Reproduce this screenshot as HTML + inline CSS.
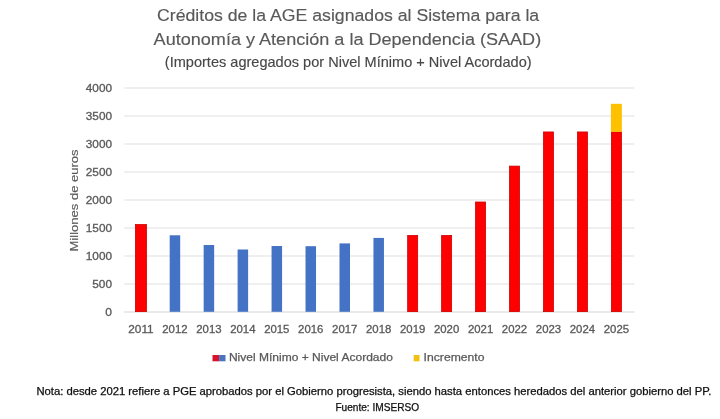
<!DOCTYPE html>
<html lang="es"><head><meta charset="utf-8"><title>Créditos de la AGE asignados al SAAD</title>
<style>html,body{margin:0;padding:0;background:#fff}body{width:720px;height:419px;overflow:hidden}svg{display:block}text{font-family:"Liberation Sans",Arial,sans-serif}</style></head><body>
<svg width="720" height="419" viewBox="0 0 720 419">
<rect width="720" height="419" fill="#ffffff"/>
<text x="157.0" y="21.2" font-size="16.9" fill="#595959" text-anchor="start" textLength="382.2" lengthAdjust="spacingAndGlyphs" stroke="#595959" stroke-width="0.15">Créditos de la AGE asignados al Sistema para la</text>
<text x="153.6" y="44.8" font-size="16.9" fill="#595959" text-anchor="start" textLength="387.6" lengthAdjust="spacingAndGlyphs" stroke="#595959" stroke-width="0.15">Autonomía y Atención a la Dependencia (SAAD)</text>
<text x="164.8" y="67.1" font-size="14.3" fill="#484848" text-anchor="start" textLength="366.8" lengthAdjust="spacingAndGlyphs" stroke="#484848" stroke-width="0.15">(Importes agregados por Nivel Mínimo + Nivel Acordado)</text>
<rect x="124.3" y="311.5" width="510.2" height="1" fill="#d4d4d4"/>
<text x="112.0" y="315.95" font-size="11" fill="#595959" text-anchor="end" textLength="6.7" lengthAdjust="spacingAndGlyphs" stroke="#595959" stroke-width="0.3">0</text>
<rect x="124.3" y="283.5" width="510.2" height="1" fill="#e0e0e0"/>
<text x="112.0" y="287.95" font-size="11" fill="#595959" text-anchor="end" textLength="19.7" lengthAdjust="spacingAndGlyphs" stroke="#595959" stroke-width="0.3">500</text>
<rect x="124.3" y="255.5" width="510.2" height="1" fill="#e0e0e0"/>
<text x="112.0" y="259.95" font-size="11" fill="#595959" text-anchor="end" textLength="26.2" lengthAdjust="spacingAndGlyphs" stroke="#595959" stroke-width="0.3">1000</text>
<rect x="124.3" y="227.5" width="510.2" height="1" fill="#e0e0e0"/>
<text x="112.0" y="231.95" font-size="11" fill="#595959" text-anchor="end" textLength="26.2" lengthAdjust="spacingAndGlyphs" stroke="#595959" stroke-width="0.3">1500</text>
<rect x="124.3" y="199.5" width="510.2" height="1" fill="#e0e0e0"/>
<text x="112.0" y="203.95" font-size="11" fill="#595959" text-anchor="end" textLength="26.2" lengthAdjust="spacingAndGlyphs" stroke="#595959" stroke-width="0.3">2000</text>
<rect x="124.3" y="171.5" width="510.2" height="1" fill="#e0e0e0"/>
<text x="112.0" y="175.95" font-size="11" fill="#595959" text-anchor="end" textLength="26.2" lengthAdjust="spacingAndGlyphs" stroke="#595959" stroke-width="0.3">2500</text>
<rect x="124.3" y="143.5" width="510.2" height="1" fill="#e0e0e0"/>
<text x="112.0" y="147.95" font-size="11" fill="#595959" text-anchor="end" textLength="26.2" lengthAdjust="spacingAndGlyphs" stroke="#595959" stroke-width="0.3">3000</text>
<rect x="124.3" y="115.5" width="510.2" height="1" fill="#e0e0e0"/>
<text x="112.0" y="119.95" font-size="11" fill="#595959" text-anchor="end" textLength="26.2" lengthAdjust="spacingAndGlyphs" stroke="#595959" stroke-width="0.3">3500</text>
<rect x="124.3" y="87.5" width="510.2" height="1" fill="#e0e0e0"/>
<text x="112.0" y="91.95" font-size="11" fill="#595959" text-anchor="end" textLength="26.2" lengthAdjust="spacingAndGlyphs" stroke="#595959" stroke-width="0.3">4000</text>
<rect x="135.45" y="224.58" width="11.0" height="87.02" fill="#ff0000" stroke="#cc0000" stroke-width="0.8"/>
<text x="140.95" y="332.7" font-size="11" fill="#595959" text-anchor="middle" textLength="25.3" lengthAdjust="spacingAndGlyphs" stroke="#595959" stroke-width="0.3">2011</text>
<rect x="169.69" y="235.28" width="10.5" height="76.52" fill="#4472c4"/>
<text x="174.94" y="332.7" font-size="11" fill="#595959" text-anchor="middle" textLength="25.3" lengthAdjust="spacingAndGlyphs" stroke="#595959" stroke-width="0.3">2012</text>
<rect x="203.65" y="245.02" width="10.5" height="66.78" fill="#4472c4"/>
<text x="208.90" y="332.7" font-size="11" fill="#595959" text-anchor="middle" textLength="25.3" lengthAdjust="spacingAndGlyphs" stroke="#595959" stroke-width="0.3">2013</text>
<rect x="237.61" y="249.50" width="10.5" height="62.30" fill="#4472c4"/>
<text x="242.86" y="332.7" font-size="11" fill="#595959" text-anchor="middle" textLength="25.3" lengthAdjust="spacingAndGlyphs" stroke="#595959" stroke-width="0.3">2014</text>
<rect x="271.57" y="246.03" width="10.5" height="65.77" fill="#4472c4"/>
<text x="276.82" y="332.7" font-size="11" fill="#595959" text-anchor="middle" textLength="25.3" lengthAdjust="spacingAndGlyphs" stroke="#595959" stroke-width="0.3">2015</text>
<rect x="305.53" y="246.20" width="10.5" height="65.60" fill="#4472c4"/>
<text x="310.78" y="332.7" font-size="11" fill="#595959" text-anchor="middle" textLength="25.3" lengthAdjust="spacingAndGlyphs" stroke="#595959" stroke-width="0.3">2016</text>
<rect x="339.49" y="243.40" width="10.5" height="68.40" fill="#4472c4"/>
<text x="344.74" y="332.7" font-size="11" fill="#595959" text-anchor="middle" textLength="25.3" lengthAdjust="spacingAndGlyphs" stroke="#595959" stroke-width="0.3">2017</text>
<rect x="373.45" y="237.91" width="10.5" height="73.89" fill="#4472c4"/>
<text x="378.70" y="332.7" font-size="11" fill="#595959" text-anchor="middle" textLength="25.3" lengthAdjust="spacingAndGlyphs" stroke="#595959" stroke-width="0.3">2018</text>
<rect x="407.66" y="235.50" width="10.0" height="76.10" fill="#ff0000" stroke="#cc0000" stroke-width="0.8"/>
<text x="412.66" y="332.7" font-size="11" fill="#595959" text-anchor="middle" textLength="25.3" lengthAdjust="spacingAndGlyphs" stroke="#595959" stroke-width="0.3">2019</text>
<rect x="441.62" y="235.50" width="10.0" height="76.10" fill="#ff0000" stroke="#cc0000" stroke-width="0.8"/>
<text x="446.62" y="332.7" font-size="11" fill="#595959" text-anchor="middle" textLength="25.3" lengthAdjust="spacingAndGlyphs" stroke="#595959" stroke-width="0.3">2020</text>
<rect x="475.58" y="202.02" width="10.0" height="109.58" fill="#ff0000" stroke="#cc0000" stroke-width="0.8"/>
<text x="480.58" y="332.7" font-size="11" fill="#595959" text-anchor="middle" textLength="25.3" lengthAdjust="spacingAndGlyphs" stroke="#595959" stroke-width="0.3">2021</text>
<rect x="509.54" y="166.12" width="10.0" height="145.48" fill="#ff0000" stroke="#cc0000" stroke-width="0.8"/>
<text x="514.54" y="332.7" font-size="11" fill="#595959" text-anchor="middle" textLength="25.3" lengthAdjust="spacingAndGlyphs" stroke="#595959" stroke-width="0.3">2022</text>
<rect x="543.50" y="131.96" width="10.0" height="179.64" fill="#ff0000" stroke="#cc0000" stroke-width="0.8"/>
<text x="548.50" y="332.7" font-size="11" fill="#595959" text-anchor="middle" textLength="25.3" lengthAdjust="spacingAndGlyphs" stroke="#595959" stroke-width="0.3">2023</text>
<rect x="577.46" y="131.96" width="10.0" height="179.64" fill="#ff0000" stroke="#cc0000" stroke-width="0.8"/>
<text x="582.46" y="332.7" font-size="11" fill="#595959" text-anchor="middle" textLength="25.3" lengthAdjust="spacingAndGlyphs" stroke="#595959" stroke-width="0.3">2024</text>
<rect x="611.42" y="131.96" width="10.0" height="179.64" fill="#ff0000" stroke="#cc0000" stroke-width="0.8"/>
<rect x="610.9" y="103.8" width="10.95" height="28.0" fill="#ffc000"/>
<text x="616.42" y="332.7" font-size="11" fill="#595959" text-anchor="middle" textLength="25.3" lengthAdjust="spacingAndGlyphs" stroke="#595959" stroke-width="0.3">2025</text>
<text transform="translate(77.9,251.4) rotate(-90)" font-size="11.3" fill="#595959" stroke="#595959" stroke-width="0.15" textLength="102" lengthAdjust="spacingAndGlyphs">Millones de euros</text>
<rect x="212.5" y="355" width="6.6" height="6.3" fill="#d8142c"/>
<rect x="219.1" y="355" width="6.4" height="6.3" fill="#4a74c0"/>
<text x="228.9" y="361.2" font-size="10.9" fill="#595959" text-anchor="start" textLength="164" lengthAdjust="spacingAndGlyphs" stroke="#595959" stroke-width="0.25">Nivel Mínimo + Nivel Acordado</text>
<rect x="413.7" y="355" width="5.8" height="6.3" fill="#f2c010"/>
<text x="423.6" y="361.2" font-size="10.9" fill="#595959" text-anchor="start" textLength="60.9" lengthAdjust="spacingAndGlyphs" stroke="#595959" stroke-width="0.25">Incremento</text>
<text x="36.4" y="395" font-size="10.0" fill="#101010" text-anchor="start" textLength="675" lengthAdjust="spacingAndGlyphs" stroke="#101010" stroke-width="0.25">Nota: desde 2021 refiere a PGE aprobados por el Gobierno progresista, siendo hasta entonces heredados del anterior gobierno del PP.</text>
<text x="335.4" y="410.6" font-size="10.0" fill="#101010" text-anchor="start" textLength="83.7" lengthAdjust="spacingAndGlyphs" stroke="#101010" stroke-width="0.25">Fuente: IMSERSO</text>
</svg></body></html>
